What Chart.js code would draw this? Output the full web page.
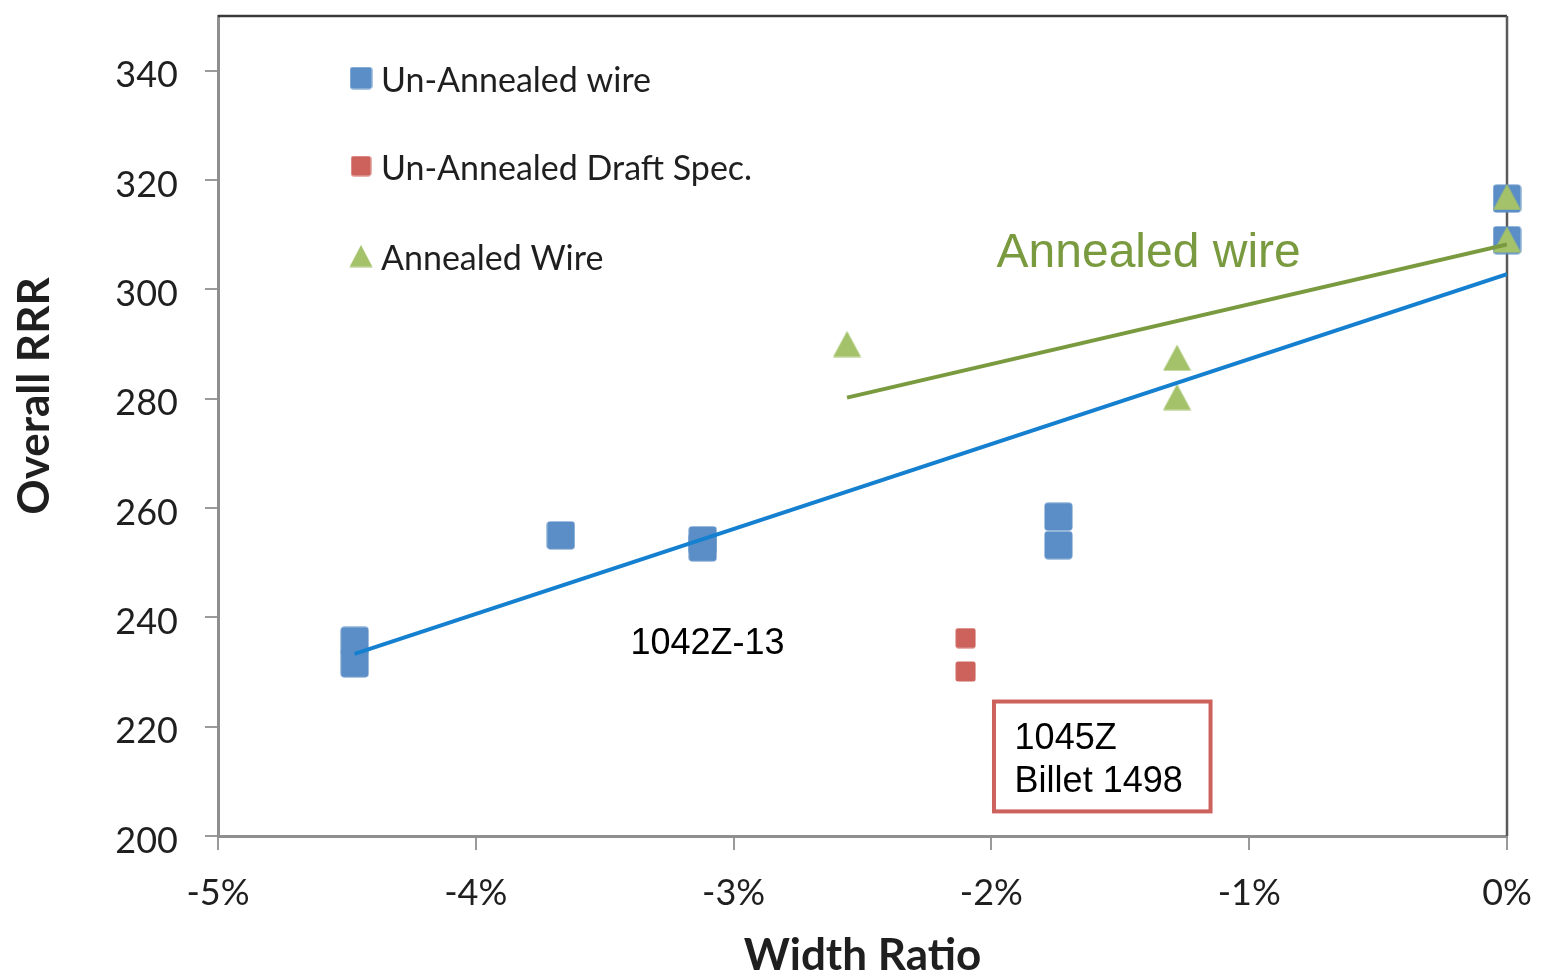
<!DOCTYPE html>
<html>
<head>
<meta charset="utf-8">
<title>Overall RRR vs Width Ratio</title>
<script src="https://cdn.jsdelivr.net/npm/chart.js@4.4.1/dist/chart.umd.min.js"></script>
<style>
  html, body { margin: 0; padding: 0; background: #ffffff; overflow: hidden; }
  canvas { display: block; }
</style>
</head>
<body>
<canvas id="chart" width="1548" height="977"></canvas>
<script>
// Axis ticks
const xTicks = [-5, -4, -3, -2, -1, 0];          // width ratio, %
const yTicks = [200, 220, 240, 260, 280, 300, 320, 340];

// Un-annealed wire samples
const unAnnealedX = [-4.47, -4.47, -3.67, -3.12, -3.12, -1.74, -1.74, 0, 0];
const unAnnealedY = [235.7, 231.6, 255.0, 254.1, 252.8, 258.4, 253.2, 316.6, 309.0];

// Un-annealed draft spec. samples (1045Z, billet 1498)
const draftX = [-2.10, -2.10];
const draftY = [236.2, 230.1];

// Annealed wire samples
const annealedX = [-2.56, -1.28, -1.28, 0, 0];
const annealedY = [290.0, 287.5, 280.3, 316.9, 309.1];

// Trend line end points
const unAnnealedTrendX = [-4.47, 0];
const unAnnealedTrendY = [233.3, 302.8];
const annealedTrendX = [-2.56, 0];
const annealedTrendY = [280.2, 308.2];

const legendLabels = ['Un-Annealed wire', 'Un-Annealed Draft Spec.', 'Annealed Wire'];

const COLORS = {
  blue: '#5b8ec6',
  red: '#cd625c',
  green: '#a4c26a',
  blueTrend: '#1580d0',
  greenTrend: '#7a9a3f',
  axis: '#8f8f8f',
  text: '#1f1f1f'
};

const toPoints = (xs, ys) => xs.map((x, i) => ({ x: x, y: ys[i] }));

// Marker images (centred on the data point)
function squareMarker(size, color) {
  const c = document.createElement('canvas');
  c.width = size; c.height = size;
  const g = c.getContext('2d');
  g.fillStyle = color;
  const r = Math.max(2, size * 0.12);
  g.beginPath();
  g.roundRect(0.5, 0.5, size - 1, size - 1, r);
  g.fill();
  return c;
}
function triangleMarker(w, h, color) {
  const c = document.createElement('canvas');
  c.width = w; c.height = h;
  const g = c.getContext('2d');
  g.fillStyle = color;
  g.beginPath();
  g.moveTo(w / 2, 0.5);
  g.lineTo(w - 0.5, h - 0.5);
  g.lineTo(0.5, h - 0.5);
  g.closePath();
  g.fill();
  return c;
}

const blueSquare = squareMarker(29, COLORS.blue);
const redSquare = squareMarker(21, COLORS.red);
const greenTriangle = triangleMarker(29, 27, COLORS.green);
const legendMarkers = [squareMarker(23, COLORS.blue), squareMarker(21, COLORS.red), triangleMarker(24, 23, COLORS.green)];

// Frame on the top and right of the plot area
const framePlugin = {
  id: 'frame',
  beforeDatasetsDraw(chart) {
    const { ctx, chartArea: a } = chart;
    ctx.save();
    ctx.strokeStyle = '#3a3a3a';
    ctx.lineWidth = 2.5;
    ctx.beginPath();
    ctx.moveTo(a.left, a.top);
    ctx.lineTo(a.right, a.top);
    ctx.stroke();
    ctx.strokeStyle = '#5a5a5a';
    ctx.beginPath();
    ctx.moveTo(a.right, a.top);
    ctx.lineTo(a.right, a.bottom);
    ctx.stroke();
    ctx.restore();
  }
};

// Legend, axis titles and notes
const notesPlugin = {
  id: 'notes',
  afterDatasetsDraw(chart) {
    const { ctx, chartArea: a, scales } = chart;
    const xs = scales.x, ys = scales.y;
    ctx.save();

    // legend inside the plot
    ctx.font = '34px Lato, "Open Sans", sans-serif';
    ctx.fillStyle = COLORS.text;
    ctx.textBaseline = 'middle';
    ctx.textAlign = 'left';
    const rowY = [a.top + 62, a.top + 150, a.top + 240];
    legendLabels.forEach((label, i) => {
      const m = legendMarkers[i];
      ctx.drawImage(m, a.left + 143 - m.width / 2, rowY[i] - m.height / 2);
      ctx.fillText(label, a.left + 163, rowY[i] + 3);
    });

    // axis titles
    ctx.font = 'bold 44px Lato, "Open Sans", sans-serif';
    ctx.textAlign = 'center';
    ctx.textBaseline = 'alphabetic';
    ctx.fillText('Width Ratio', (a.left + a.right) / 2, 970);
    ctx.save();
    ctx.translate(49, 396);
    ctx.rotate(-Math.PI / 2);
    ctx.fillText('Overall RRR', 0, 0);
    ctx.restore();

    // trend label
    ctx.textAlign = 'left';
    ctx.font = '48px "Liberation Sans", Arial, sans-serif';
    ctx.fillStyle = COLORS.greenTrend;
    ctx.fillText('Annealed wire', xs.getPixelForValue(-1.98), ys.getPixelForValue(304.0));

    // sample notes
    ctx.font = '36px "Liberation Sans", Arial, sans-serif';
    ctx.fillStyle = '#000000';
    ctx.fillText('1042Z-13', xs.getPixelForValue(-3.40), ys.getPixelForValue(233.3));

    const bx0 = xs.getPixelForValue(-1.99), bx1 = xs.getPixelForValue(-1.15);
    const by0 = ys.getPixelForValue(224.6), by1 = ys.getPixelForValue(204.5);
    ctx.fillStyle = '#ffffff';
    ctx.fillRect(bx0, by0, bx1 - bx0, by1 - by0);
    ctx.strokeStyle = COLORS.red;
    ctx.lineWidth = 4;
    ctx.strokeRect(bx0, by0, bx1 - bx0, by1 - by0);
    ctx.fillStyle = '#000000';
    ctx.fillText('1045Z', xs.getPixelForValue(-1.91), ys.getPixelForValue(215.9));
    ctx.fillText('Billet 1498', xs.getPixelForValue(-1.91), ys.getPixelForValue(208.0));

    ctx.restore();
  }
};

Chart.defaults.font.family = 'Lato, "Open Sans", sans-serif';
Chart.defaults.color = COLORS.text;

new Chart(document.getElementById('chart'), {
  type: 'scatter',
  data: {
    datasets: [
      {
        label: 'Un-Annealed wire trend',
        data: toPoints(unAnnealedTrendX, unAnnealedTrendY),
        showLine: true,
        borderColor: COLORS.blueTrend,
        borderWidth: 4,
        pointRadius: 0,
        fill: false
      },
      {
        label: 'Annealed wire trend',
        data: toPoints(annealedTrendX, annealedTrendY),
        showLine: true,
        borderColor: COLORS.greenTrend,
        borderWidth: 4,
        pointRadius: 0,
        fill: false
      },
      {
        label: legendLabels[2],
        data: toPoints(annealedX, annealedY),
        pointStyle: greenTriangle,
        pointRadius: 14,
        backgroundColor: COLORS.green,
        clip: false
      },
      {
        label: legendLabels[1],
        data: toPoints(draftX, draftY),
        pointStyle: redSquare,
        pointRadius: 11,
        backgroundColor: COLORS.red,
        clip: false
      },
      {
        label: legendLabels[0],
        data: toPoints(unAnnealedX, unAnnealedY),
        pointStyle: blueSquare,
        pointRadius: 15,
        backgroundColor: COLORS.blue,
        clip: false
      }
    ]
  },
  options: {
    responsive: false,
    animation: false,
    events: [],
    layout: { padding: { top: 10, right: 41, bottom: 0, left: 0 } },
    plugins: {
      legend: { display: false },
      tooltip: { enabled: false },
      title: { display: false }
    },
    scales: {
      x: {
        type: 'linear',
        min: -5,
        max: 0,
        afterBuildTicks: s => { s.ticks = xTicks.map(v => ({ value: v })); },
        afterFit: s => {
          s.height = 141;
          s.paddingLeft = 0; s.paddingRight = 0; s.paddingTop = 0; s.paddingBottom = 0;
        },
        grid: { drawOnChartArea: false, drawTicks: true, tickLength: 14, color: '#9a9a9a', lineWidth: 2 },
        border: { display: true, color: COLORS.axis, width: 3 },
        ticks: {
          font: { size: 36 },
          color: COLORS.text,
          padding: 22,
          maxRotation: 0,
          autoSkip: false,
          callback: v => v + '%'
        }
      },
      y: {
        type: 'linear',
        min: 200,
        max: 350,
        afterBuildTicks: s => { s.ticks = yTicks.map(v => ({ value: v })); },
        afterFit: s => {
          s.width = 218;
          s.paddingLeft = 0; s.paddingRight = 0; s.paddingTop = 0; s.paddingBottom = 0;
        },
        grid: { drawOnChartArea: false, drawTicks: true, tickLength: 13, color: '#9a9a9a', lineWidth: 2 },
        border: { display: true, color: COLORS.axis, width: 3 },
        ticks: {
          font: { size: 36 },
          color: COLORS.text,
          padding: 27,
          labelOffset: 5,
          autoSkip: false
        }
      }
    }
  },
  plugins: [framePlugin, notesPlugin]
});
</script>
</body>
</html>
